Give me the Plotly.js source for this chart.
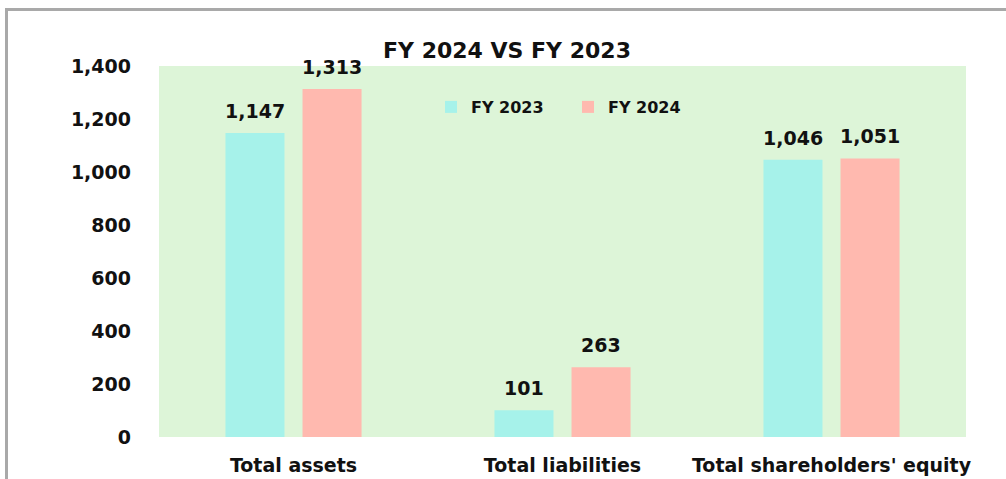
<!DOCTYPE html>
<html>
<head>
<meta charset="utf-8">
<script src="https://cdn.plot.ly/plotly-3.0.1.min.js"></script>
<style>
  html, body { margin: 0; padding: 0; background: #ffffff; }
  #chart { width: 1006px; height: 479px; }
</style>
</head>
<body>
<div id="chart"></div>
<script>
const categories = ["Total assets", "Total liabilities", "Total shareholders' equity"];
const seriesNames = ["FY 2023", "FY 2024"];
const fy2023 = [1147, 101, 1046];
const fy2024 = [1313, 263, 1051];
const yTickVals = [0, 200, 400, 600, 800, 1000, 1200, 1400];

const colors = ["#a6f2ea", "#ffb9af"];
const FONT = "DejaVu Sans, Verdana, sans-serif";
const labelFont = {family: FONT, size: 19, color: "#111111", weight: "bold"};

const L = 159, R = 40, T = 66, B = 42, W = 1006, H = 479;
const pw = W - L - R, ph = H - T - B;
const bargap = 0.427, bargroupgap = 0.234;
const slotPx = pw / categories.length * (1 - bargap) / 2;

const series = [fy2023, fy2024];
const traces = series.map((vals, i) => ({
  type: "bar",
  name: seriesNames[i],
  x: categories,
  y: vals,
  marker: {color: colors[i]},
  legend: i === 0 ? "legend" : "legend2",
  hoverinfo: "x+y+name"
}));

const annotations = [];
series.forEach((vals, i) => {
  vals.forEach((v, j) => {
    annotations.push({
      x: categories[j], y: v, xref: "x", yref: "y",
      text: v.toLocaleString("en-US"),
      showarrow: false,
      xanchor: "center", yanchor: "bottom",
      xshift: (i - 0.5) * slotPx,
      yshift: 9,
      font: labelFont
    });
  });
});

const legendFont = {family: FONT, size: 16, color: "#111111", weight: "bold"};
const layout = {
  width: W, height: H,
  margin: {l: L, r: R, t: T, b: B, pad: 0},
  paper_bgcolor: "#ffffff",
  plot_bgcolor: "#ddf5d8",
  barmode: "group",
  bargap: bargap,
  bargroupgap: bargroupgap,
  showlegend: true,
  title: {
    text: "FY 2024 VS FY 2023",
    font: {family: FONT, size: 22, color: "#111111", weight: "bold"},
    x: 507 / W, xref: "container", xanchor: "center",
    y: 1 - 50 / H, yref: "container", yanchor: "middle"
  },
  legend: {
    orientation: "h",
    x: (431 - L) / pw, xanchor: "left",
    y: (437 - 107) / ph, yanchor: "middle",
    bgcolor: "rgba(0,0,0,0)",
    font: legendFont,
    itemwidth: 30
  },
  legend2: {
    orientation: "h",
    x: (568 - L) / pw, xanchor: "left",
    y: (437 - 107) / ph, yanchor: "middle",
    bgcolor: "rgba(0,0,0,0)",
    font: legendFont,
    itemwidth: 30
  },
  xaxis: {
    type: "category",
    showgrid: false, zeroline: false, showline: false,
    ticks: "", ticklabelstandoff: 15,
    tickfont: {family: FONT, size: 19, color: "#111111", weight: "bold"}
  },
  yaxis: {
    range: [0, 1400],
    tickvals: yTickVals,
    tickformat: ",",
    showgrid: false, zeroline: false, showline: false,
    ticks: "", ticklabelstandoff: 27,
    tickfont: {family: FONT, size: 19, color: "#111111", weight: "bold"}
  },
  annotations: annotations,
  shapes: [{
    type: "rect", xref: "paper", yref: "paper", layer: "above",
    x0: (6.5 - L) / pw, x1: (1015 - L) / pw,
    y0: (437 - 495) / ph, y1: (437 - 9.5) / ph,
    line: {color: "#a9a9a9", width: 3},
    fillcolor: "rgba(0,0,0,0)"
  }]
};

Plotly.newPlot("chart", traces, layout, {displayModeBar: false, staticPlot: true});
</script>
</body>
</html>
